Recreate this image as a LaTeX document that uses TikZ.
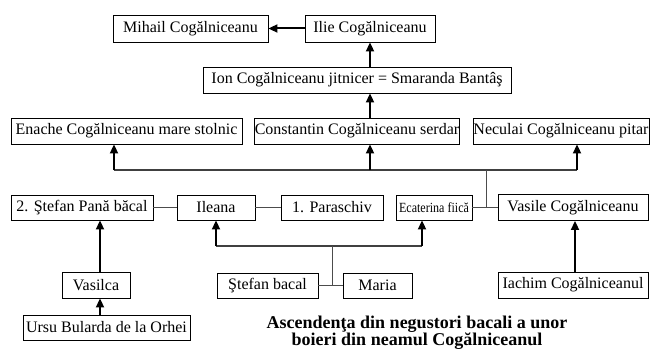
\documentclass[tikz,border=0pt]{standalone}
\usepackage{fontspec}
\setmainfont{Liberation Serif}
\usetikzlibrary{arrows.meta,calc}
\begin{document}
\begin{tikzpicture}[x=1pt,y=-1pt,
  box/.style={draw, line width=0.9pt, inner sep=0pt, font=\fontsize{16}{18}\selectfont},
  arr/.style={line width=2pt, -{Triangle[width=8pt,length=9pt]}},
  bus/.style={line width=1.3pt, draw=black!75},
  thinline/.style={line width=0.9pt, draw=black!70}]
\useasboundingbox (0,0) rectangle (650,350);
% top
\node[box, minimum width=155pt, minimum height=27pt] (mihail) at (190.5,28.5) {Mihail Cogălniceanu};
\node[box, minimum width=130pt, minimum height=27pt] (ilie) at (370,28.5) {Ilie Cogălniceanu};
\node[box, minimum width=308pt, minimum height=26pt] (ion) at (357,80) {Ion Cogălniceanu jitnicer = Smaranda Bantâş};
% row 3
\node[box, minimum width=231pt, minimum height=26pt] (enache) at (126.5,131) {Enache Cogălniceanu mare stolnic};
\node[box, minimum width=204pt, minimum height=26pt] (constantin) at (357,131) {Constantin Cogălniceanu serdar};
\node[box, minimum width=176pt, minimum height=26pt] (neculai) at (561,131) {Neculai Cogălniceanu pitar};
% row 4
\node[box, minimum width=142pt, minimum height=25pt] (stefanpana) at (82,207.5) {2. Ştefan Pană băcal};
\node[box, minimum width=78pt, minimum height=25pt] (ileana) at (216,207.5) {Ileana};
\node[box, minimum width=102pt, minimum height=25pt] (paraschiv) at (332,207.5) {1. Paraschiv};
\node[box, minimum width=76pt, minimum height=25pt] (ecaterina) at (434,207.5) {\fontsize{14}{16}\selectfont\scalebox{0.86}[1]{Ecaterina fiică}};
\node[box, minimum width=150pt, minimum height=26pt] (vasile) at (573,207.5) {Vasile Cogălniceanu};
% lower
\node[box, minimum width=68pt, minimum height=26pt] (vasilca) at (96,285) {Vasilca};
\node[box, minimum width=167pt, minimum height=25pt] (ursu) at (106.5,327.5) {Ursu Bularda de la Orhei};
\node[box, minimum width=101pt, minimum height=25pt] (stefanbacal) at (267.5,285.5) {Ştefan bacal};
\node[box, minimum width=69pt, minimum height=25pt] (maria) at (377.5,285.5) {Maria};
\node[box, minimum width=150pt, minimum height=26pt] (iachim) at (573,285) {Iachim Cogălniceanul};
% caption
\node[font=\bfseries\fontsize{18}{17}\selectfont, align=center] (cap) at (417,333) {Ascendenţa din negustori bacali a unor\\boieri din neamul Cogălniceanul};

% connectors top
\draw[arr] (ilie.west) -- (mihail.east);
\draw[arr] (ilie.south |- ion.north) -- (ilie.south);
\draw[arr] (ilie.south |- constantin.north) -- (ilie.south |- ion.south);
% upper bus
\coordinate (b1) at (114,170);
\coordinate (b2) at (370,170);
\coordinate (b3) at (577,170);
\coordinate (bv) at (486,170);
\draw[bus] (b1) -- (b3);
\draw[arr] (b1) -- (b1 |- enache.south);
\draw[arr] (b2) -- (b2 |- constantin.south);
\draw[arr] (b3) -- (b3 |- neculai.south);
\draw[thinline] (bv) -- (bv |- vasile.west);
\draw[thinline] (ecaterina.east) -- (vasile.west);
\draw[thinline] (stefanpana.east) -- (ileana.west);
\draw[thinline] (ileana.east) -- (paraschiv.west);
% lower bus
\coordinate (l1) at (216,246);
\coordinate (l2) at (422,246);
\coordinate (lv) at (332,246);
\draw[bus] (l1) -- (l2);
\draw[arr] (l1) -- (l1 |- ileana.south);
\draw[arr] (l2) -- (l2 |- ecaterina.south);
\draw[thinline] (lv) -- (lv |- stefanbacal.east);
\draw[thinline] (stefanbacal.east) -- (maria.west);
% left chain
\coordinate (vx) at (100,250);
\draw[arr] (vx |- vasilca.north) -- (vx |- stefanpana.south);
\draw[arr] (vx |- ursu.north) -- (vx |- vasilca.south);
% right chain
\coordinate (ix) at (575,250);
\draw[arr] (ix |- iachim.north) -- (ix |- vasile.south);
\end{tikzpicture}
\end{document}
